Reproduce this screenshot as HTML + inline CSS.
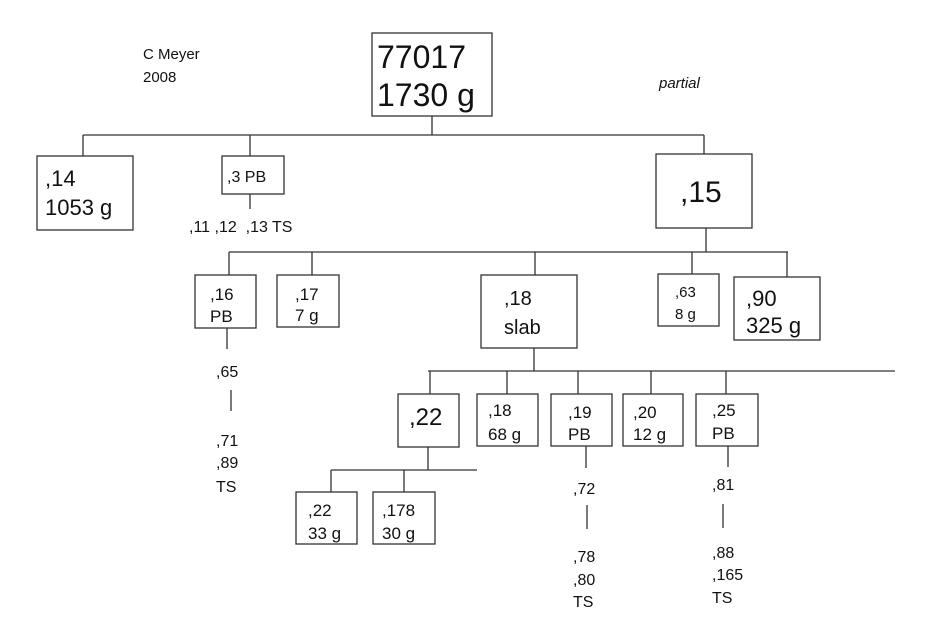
<!DOCTYPE html>
<html><head><meta charset="utf-8"><style>
html,body{margin:0;padding:0;background:#fff;}
svg{display:block;}
text{font-family:"Liberation Sans",Arial,sans-serif;fill:#111;}
</style></head><body>
<svg width="931" height="637" viewBox="0 0 931 637" xmlns="http://www.w3.org/2000/svg">
<g stroke="#333" stroke-width="1.3" fill="none">
<rect x="372" y="33" width="120" height="83"/>
<line x1="432" y1="116" x2="432" y2="135"/>
<line x1="83" y1="135" x2="704" y2="135"/>
<line x1="83" y1="135" x2="83" y2="156"/>
<line x1="250" y1="135" x2="250" y2="156"/>
<line x1="704" y1="135" x2="704" y2="154"/>
<rect x="37" y="156" width="96" height="74"/>
<rect x="222" y="156" width="62" height="38"/>
<line x1="250" y1="194" x2="250" y2="209"/>
<rect x="656" y="154" width="96" height="74"/>
<line x1="706" y1="228" x2="706" y2="252"/>
<line x1="229" y1="252" x2="788" y2="252"/>
<line x1="229" y1="252" x2="229" y2="275"/>
<line x1="312" y1="252" x2="312" y2="275"/>
<line x1="535" y1="252" x2="535" y2="275"/>
<line x1="692" y1="252" x2="692" y2="274"/>
<line x1="787" y1="252" x2="787" y2="277"/>
<rect x="195" y="275" width="61" height="53"/>
<rect x="277" y="275" width="62" height="52"/>
<rect x="481" y="275" width="96" height="73"/>
<rect x="658" y="274" width="61" height="52"/>
<rect x="734" y="277" width="86" height="63"/>
<line x1="227" y1="328" x2="227" y2="349"/>
<line x1="231" y1="390" x2="231" y2="411"/>
<line x1="534" y1="348" x2="534" y2="371"/>
<line x1="428" y1="371" x2="895" y2="371"/>
<line x1="430" y1="371" x2="430" y2="394"/>
<line x1="507" y1="371" x2="507" y2="394"/>
<line x1="578" y1="371" x2="578" y2="394"/>
<line x1="651" y1="371" x2="651" y2="394"/>
<line x1="726" y1="371" x2="726" y2="394"/>
<rect x="398" y="394" width="61" height="53"/>
<rect x="477" y="394" width="61" height="52"/>
<rect x="551" y="394" width="61" height="52"/>
<rect x="623" y="394" width="60" height="52"/>
<rect x="696" y="394" width="62" height="52"/>
<line x1="428" y1="447" x2="428" y2="470"/>
<line x1="331" y1="470" x2="477" y2="470"/>
<line x1="331" y1="470" x2="331" y2="492"/>
<line x1="404" y1="470" x2="404" y2="492"/>
<rect x="296" y="492" width="61" height="52"/>
<rect x="373" y="492" width="62" height="52"/>
<line x1="586" y1="446" x2="586" y2="468"/>
<line x1="587" y1="505" x2="587" y2="529"/>
<line x1="728" y1="446" x2="728" y2="467"/>
<line x1="723" y1="504" x2="723" y2="528"/>
</g>
<text x="143" y="59" font-size="15">C Meyer</text>
<text x="143" y="82" font-size="15">2008</text>
<text x="659" y="88" font-size="15" font-style="italic">partial</text>
<text x="377" y="68" font-size="32">77017</text>
<text x="377" y="106" font-size="32">1730 g</text>
<text x="45" y="186" font-size="22">,14</text>
<text x="45" y="215" font-size="22">1053 g</text>
<text x="227" y="182" font-size="16">,3 PB</text>
<text x="189" y="232" font-size="16" xml:space="preserve">,11 ,12  ,13 TS</text>
<text x="680" y="202" font-size="30">,15</text>
<text x="210" y="300" font-size="17">,16</text>
<text x="210" y="322" font-size="17">PB</text>
<text x="295" y="300" font-size="17">,17</text>
<text x="295" y="321" font-size="17">7 g</text>
<text x="504" y="305" font-size="20">,18</text>
<text x="504" y="334" font-size="20">slab</text>
<text x="675" y="297" font-size="15">,63</text>
<text x="675" y="319" font-size="15">8 g</text>
<text x="746" y="306" font-size="22">,90</text>
<text x="746" y="333" font-size="22">325 g</text>
<text x="216" y="377" font-size="16">,65</text>
<text x="216" y="446" font-size="16">,71</text>
<text x="216" y="468" font-size="16">,89</text>
<text x="216" y="492" font-size="16">TS</text>
<text x="409" y="425" font-size="24">,22</text>
<text x="488" y="416" font-size="17">,18</text>
<text x="488" y="440" font-size="17">68 g</text>
<text x="568" y="418" font-size="17">,19</text>
<text x="568" y="440" font-size="17">PB</text>
<text x="633" y="418" font-size="17">,20</text>
<text x="633" y="440" font-size="17">12 g</text>
<text x="712" y="416" font-size="17">,25</text>
<text x="712" y="439" font-size="17">PB</text>
<text x="308" y="516" font-size="17">,22</text>
<text x="308" y="539" font-size="17">33 g</text>
<text x="382" y="516" font-size="17">,178</text>
<text x="382" y="539" font-size="17">30 g</text>
<text x="573" y="494" font-size="16">,72</text>
<text x="573" y="562" font-size="16">,78</text>
<text x="573" y="585" font-size="16">,80</text>
<text x="573" y="607" font-size="16">TS</text>
<text x="712" y="490" font-size="16">,81</text>
<text x="712" y="558" font-size="16">,88</text>
<text x="712" y="580" font-size="16">,165</text>
<text x="712" y="603" font-size="16">TS</text>
</svg>
</body></html>
